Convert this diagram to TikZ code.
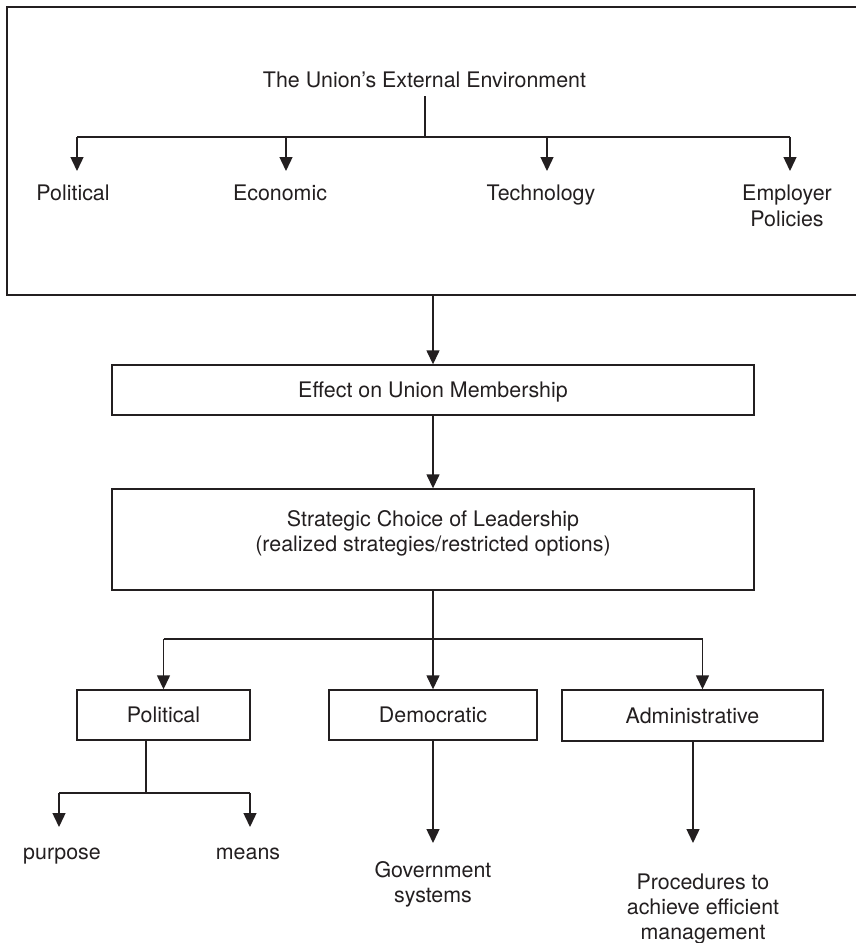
\documentclass[tikz,border=0pt]{standalone}
\usepackage{fontspec}
\setmainfont{TeX Gyre Heros}
\usetikzlibrary{arrows.meta}
\definecolor{ink}{HTML}{231F20}
\begin{document}
\begin{tikzpicture}[x=1pt,y=-1pt,
  every node/.style={font=\fontsize{21.4}{25}\selectfont, text=ink},
  ln/.style={draw=ink, line width=1.4pt},
  arr/.style={ln, -{Triangle[length=14pt,width=13pt]}},
  box/.style={draw=ink, line width=1.4pt, rectangle, inner sep=0pt, text height=15.4pt, text depth=0pt},
  lbl/.style={anchor=base, inner sep=0pt},
  mlbl/.style={anchor=north, inner sep=0pt, align=center},
]
\useasboundingbox (0,0) rectangle (856,943);
\fill[white] (0,0) rectangle (856,943);

% outer environment box
\node[box, minimum width=863pt, minimum height=288pt] (env) at (438.5,151) {};
\node[lbl] (title) at (424.5,87) {The Union’s External Environment};
\coordinate (stemtop) at (425,96);
\coordinate (hub) at (425,137);
\coordinate (b1) at (77,137);
\coordinate (b2) at (286,137);
\coordinate (b3) at (547,137);
\coordinate (b4) at (790,137);
\coordinate (t1) at (77,171);
\coordinate (t2) at (286,171);
\coordinate (t3) at (547,171);
\coordinate (t4) at (790,171);
\draw[ln] (stemtop) -- (hub);
\draw[ln] (b1) -- (b4);
\foreach \i in {1,2,3,4} { \draw[arr] (b\i) -- (t\i); }
\node[lbl] (ePol) at (73,200) {Political};
\node[lbl] (eEco) at (280,200) {Economic};
\node[lbl] (eTec) at (541,200) {Technology};
\node[mlbl, baseline=0pt] (eEmp) at (787,184.6) {Employer\\[1pt]Policies};

% middle boxes
\node[box, minimum width=642pt, minimum height=50pt] (eff) at (433,390) {Effect on Union Membership};
\node[box, minimum width=642pt, minimum height=101pt] (strat) at (433,539.5) {};
\node[mlbl] (stratT) at (433,510.3) {Strategic Choice of Leadership\\(realized strategies/restricted options)};
\draw[arr] (eff.north |- env.south) -- (eff.north);
\draw[arr] (eff.south) -- (strat.north);

% strategy types
\node[box, minimum width=173pt, minimum height=50pt] (pPol) at (163.5,715) {Political};
\node[box, minimum width=208pt, minimum height=50pt] (dem) at (433,715) {Democratic};
\node[box, minimum width=261pt, minimum height=51pt] (adm) at (692.5,715.5) {Administrative};
\coordinate (c1) at (163.5,639);
\coordinate (c3) at (702.5,639);
\draw[ln] (c1) -- (c3);
\draw[arr] (strat.south) -- (dem.north);
\draw[arr] (c1) -- (pPol.north);
\draw[arr] (c3) -- (c3 |- adm.north);

% political sub-branches
\coordinate (ps) at (146,740);
\coordinate (pb) at (146,793);
\coordinate (pl) at (59,793);
\coordinate (pr) at (250,793);
\coordinate (plt) at (59,827);
\coordinate (prt) at (250,827);
\draw[ln] (ps) -- (pb);
\draw[ln] (pl) -- (pr);
\draw[arr] (pl) -- (plt);
\draw[arr] (pr) -- (prt);
\node[lbl] (purp) at (62,859) {purpose};
\node[lbl] (mean) at (248,859) {means};

% democratic outcome
\coordinate (dt) at (433,843);
\draw[arr] (dem.south) -- (dt);
\node[mlbl] (gov) at (433,861.5) {Government\\systems};

% administrative outcome
\coordinate (as) at (693,741);
\coordinate (at) at (693,843);
\draw[arr] (as) -- (at);
\node[mlbl] (proc) at (703,874) {Procedures to\\achieve efficient\\management};
\end{tikzpicture}
\end{document}
